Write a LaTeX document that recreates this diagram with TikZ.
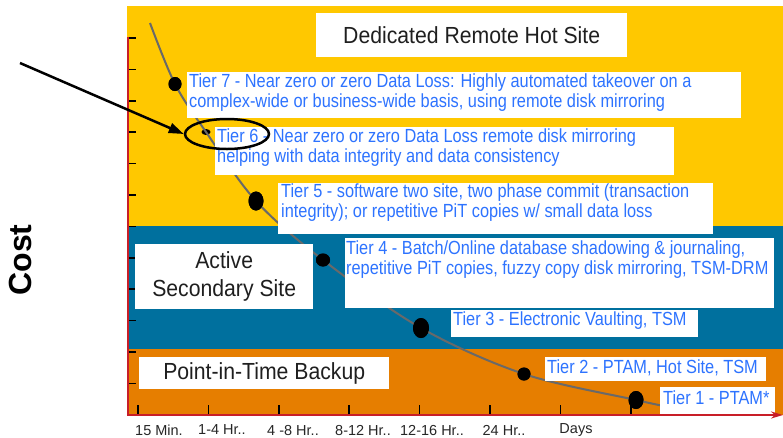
\documentclass[tikz,border=0pt]{standalone}
\usepackage{fontspec}
\setmainfont{Liberation Sans}
\newfontfamily\tierfont[FakeStretch=0.86]{Liberation Sans}
\newfontfamily\zonefont[FakeStretch=0.91]{Liberation Sans}
\usetikzlibrary{shapes.geometric,arrows.meta}

\definecolor{zoneyellow}{RGB}{255,200,0}
\definecolor{zoneblue}{RGB}{0,112,158}
\definecolor{zoneorange}{RGB}{230,126,0}
\definecolor{axisred}{RGB}{200,30,40}
\definecolor{tierblue}{RGB}{45,115,255}
\definecolor{curvegray}{RGB}{105,105,105}

\begin{document}
\begin{tikzpicture}[x=1pt,y=-1pt,
  whitebox/.style={fill=white, draw=none, inner sep=0pt, anchor=north west},
  tiertext/.style={text=tierblue, font=\tierfont\fontsize{19}{20}\selectfont,
    align=left, anchor=west, inner sep=0pt},
  zonetext/.style={whitebox, text=black!88,
    font=\zonefont\fontsize{23.3}{28}\selectfont, align=center},
  dot/.style={ellipse, fill=black, inner sep=0pt},
  curveline/.style={draw=curvegray, line width=2pt},
  axisline/.style={draw=axisred, line width=2pt},
  tickmark/.style={draw=black, line width=1.6pt},
  ticklabel/.style={text=black!85, font=\fontsize{14.5}{15}\selectfont, inner sep=0pt},
  ring/.style={ellipse, draw=black, line width=2.5pt, inner sep=0pt},
  pointer/.style={draw=black, line width=2.5pt, -{Triangle[length=15pt,width=10pt]}}
]
\useasboundingbox (0,0) rectangle (783,437);

% cost bands
\fill[zoneyellow] (127,6) rectangle (783,226);
\fill[zoneblue]   (127,226) rectangle (783,349);
\fill[zoneorange] (127,349) rectangle (783,415);

% cost ticks on the vertical axis
\foreach \k in {0,...,11}
  \draw[tickmark] (128,{38+31.4*\k}) -- (136,{38+31.4*\k});
% recovery-time ticks on the horizontal axis
\foreach \k in {0,...,7}
  \draw[tickmark] ({138+70.4*\k},405) -- ({138+70.4*\k},414);

% tier points
\node[dot, minimum width=13pt, minimum height=14pt] (d7) at (175,84) {};
\node[dot, minimum width=9pt,  minimum height=6pt]  (d6) at (206,132) {};
\node[dot, minimum width=15pt, minimum height=19pt] (d5) at (256,201) {};
\node[dot, minimum width=14pt, minimum height=13pt] (d4) at (323,260) {};
\node[dot, minimum width=16pt, minimum height=20pt] (d3) at (421,328) {};
\node[dot, minimum width=13pt, minimum height=13pt] (d2) at (524,374) {};
\node[dot, minimum width=15pt, minimum height=18pt] (d1) at (636,400) {};
\coordinate (ctop) at (150,23);
\coordinate (cend) at (664,406);

% cost / recovery-time curve
\draw[curveline] plot[smooth, tension=0.55] coordinates
  {(ctop) (d7.center) (d6.center) (d5.center) (d4.center) (d3.center) (d2.center) (d1.center) (cend)};

% zone labels
\node[zonetext, minimum width=311pt, minimum height=44pt] (hot) at (316,13) {Dedicated Remote Hot Site};
\node[zonetext, minimum width=178pt, minimum height=65pt] (active) at (135,244) {Active\\Secondary Site};
\node[zonetext, minimum width=250pt, minimum height=32pt] (pit) at (139,357) {Point-in-Time Backup};

% tier description boxes
\node[whitebox, minimum width=554pt, minimum height=46pt] (t7) at (187,72) {};
\node[whitebox, minimum width=459pt, minimum height=48pt] (t6) at (215,127) {};
\node[whitebox, minimum width=435pt, minimum height=51pt] (t5) at (278,183) {};
\node[whitebox, minimum width=429pt, minimum height=70pt] (t4) at (345,238) {};
\node[whitebox, minimum width=247pt, minimum height=27pt] (t3) at (451,310) {};
\node[whitebox, minimum width=221pt, minimum height=24pt] (t2) at (545,357) {};
\node[whitebox, minimum width=115pt, minimum height=28pt] (t1) at (660,387) {};

% redraw the points above the boxes
\fill[black] (d7.center) ellipse (6.5pt and 7pt);
\fill[black] (d5.center) ellipse (7.5pt and 9.5pt);
\fill[black] (d4.center) ellipse (7pt and 6.5pt);
\fill[black] (d3.center) ellipse (8pt and 10pt);
\fill[black] (d2.center) ellipse (6.5pt and 6.5pt);
\fill[black] (d1.center) ellipse (7.5pt and 9pt);

% tier texts
\node[tiertext] (l7) at (189,93) {Tier 7 - Near zero or zero Data Loss: Highly automated takeover on a\\complex-wide or business-wide basis, using remote disk mirroring};
\node[tiertext] (l6) at (217,148) {Tier 6 - Near zero or zero Data Loss remote disk mirroring\\helping with data integrity and data consistency};
\node[tiertext] (l5) at (281,203) {Tier 5 - software two site, two phase commit (transaction\\integrity); or repetitive PiT copies w/ small data loss};
\node[tiertext] (l4) at (346,260) {Tier 4 - Batch/Online database shadowing \& journaling,\\repetitive PiT copies, fuzzy copy disk mirroring, TSM-DRM};
\node[tiertext] (l3) at (453,321) {Tier 3 - Electronic Vaulting, TSM};
\node[tiertext] (l2) at (547,368) {Tier 2 - PTAM, Hot Site, TSM};
\node[tiertext] (l1) at (663,398) {Tier 1 - PTAM*};

% axes
\draw[axisline] (128,415) -- (128,37);
\draw[axisline, -{Stealth[length=12pt,width=7pt]}] (127,415) -- (783,415);

% recovery-time labels
\node[ticklabel] (x1) at (159,430) {15 Min.};
\node[ticklabel] (x2) at (222,430) {1-4 Hr..};
\node[ticklabel] (x3) at (293,430) {4 -8 Hr..};
\node[ticklabel] (x4) at (363,430) {8-12 Hr..};
\node[ticklabel] (x5) at (432,430) {12-16 Hr..};
\node[ticklabel] (x6) at (504,430) {24 Hr..};
\node[ticklabel] (x7) at (576,430) {Days};

% vertical axis title
\node[rotate=90, font=\bfseries\fontsize{32}{32}\selectfont, inner sep=0pt] (cost) at (20,260) {Cost};

% highlight on tier 6
\node[ring, minimum width=84pt, minimum height=30pt] (halo) at (227,134) {};
\coordinate (tail) at (20,63);
\draw[pointer] (tail) -- (halo.west);
\end{tikzpicture}
\end{document}
